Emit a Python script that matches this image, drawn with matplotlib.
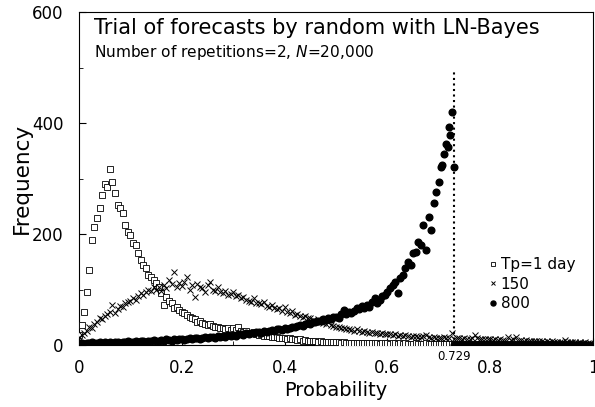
import numpy as np
import matplotlib.pyplot as plt
from matplotlib.ticker import MultipleLocator

# bin centres (step 0.005)
x_bins = np.round(np.arange(0, 1.0, 0.005), 3)

# Tp = 1 day (squares)
freq_1day = [
    18, 36, 60, 96, 135, 189, 213, 228, 246, 270, 291, 285, 318, 294, 273, 252, 246, 237, 216, 204,
    198, 183, 180, 165, 153, 144, 138, 126, 123, 117, 111, 105, 93, 72, 87, 80, 75, 66, 68, 63,
    60, 57, 54, 50, 48, 46, 42, 44, 40, 38, 36, 37, 34, 33, 32, 30, 31, 29, 30, 27,
    30, 27, 33, 25, 24, 26, 22, 21, 23, 19, 18, 20, 17, 16, 17, 15, 14, 15, 13, 12,
    12, 11, 12, 10, 10, 9, 10, 8, 9, 8, 7, 8, 7, 6, 7, 6, 6, 5, 6, 5,
    5, 5, 4, 5, 4, 4, 4, 3, 4, 3, 4, 3, 3, 4, 3, 3, 3, 2, 3, 3,
    3, 2, 3, 3, 2, 3, 2, 3, 2, 2, 2, 3, 2, 2, 2, 3, 2, 2, 1, 2,
    2, 1, 2, 2, 1, 2, 1, 2, 1, 1, 1, 2, 1, 1, 1, 2, 1, 1, 1, 1,
    1, 1, 1, 0, 1, 1, 1, 0, 1, 1, 0, 1, 1, 0, 1, 0, 1, 0, 1, 1,
    1, 0, 1, 0, 1, 1, 0, 0, 1, 0, 0, 1, 0, 0, 0, 1, 0, 0, 0, 0,
]

# Tp = 150 (crosses)
freq_150 = [
    15, 18, 22, 26, 33, 30, 38, 42, 48, 46, 52, 56, 60, 72, 57, 64, 70, 68, 75, 78,
    80, 84, 82, 88, 93, 90, 95, 99, 97, 104, 100, 105, 98, 108, 102, 117, 110, 132, 104, 112,
    106, 114, 123, 100, 108, 87, 110, 104, 102, 96, 108, 114, 100, 98, 104, 95, 93, 98, 90, 92,
    96, 88, 90, 84, 86, 82, 80, 78, 84, 76, 75, 73, 78, 70, 68, 72, 66, 64, 67, 62,
    69, 60, 58, 62, 54, 56, 52, 50, 53, 48, 48, 45, 44, 46, 42, 40, 38, 41, 36, 34,
    32, 33, 30, 31, 28, 29, 27, 26, 28, 25, 24, 26, 23, 22, 24, 21, 22, 20, 21, 20,
    20, 19, 18, 20, 17, 18, 16, 18, 17, 15, 16, 17, 15, 14, 16, 18, 14, 13, 15, 13,
    13, 12, 14, 12, 13, 21, 11, 12, 13, 11, 12, 10, 11, 12, 18, 12, 11, 10, 11, 10,
    10, 9, 11, 9, 10, 9, 8, 15, 9, 10, 15, 8, 9, 8, 9, 7, 8, 7, 8, 7,
    7, 6, 7, 6, 7, 5, 6, 5, 6, 9, 5, 6, 5, 5, 4, 5, 4, 5, 4, 4,
]

# Tp = 800 (dots), up to the maximum probability 0.729, zero beyond it
freq_800 = [
    3, 4, 2, 4, 3, 5, 4, 3, 5, 4, 6, 4, 5, 3, 6, 5, 4, 6, 5, 7,
    6, 5, 7, 6, 8, 7, 6, 8, 7, 9, 8, 7, 9, 8, 10, 9, 8, 10, 9, 11,
    10, 9, 11, 12, 10, 12, 13, 11, 13, 14, 12, 15, 14, 13, 16, 15, 17, 14, 18, 16,
    18, 17, 19, 20, 18, 21, 20, 22, 21, 23, 24, 22, 25, 24, 26, 27, 25, 28, 29, 27,
    30, 29, 31, 33, 32, 34, 36, 35, 37, 40, 38, 42, 41, 44, 43, 46, 45, 48, 47, 50,
    51, 48, 55, 63, 56, 60, 57, 62, 66, 64, 70, 67, 72, 69, 78, 84, 76, 81, 88, 90,
    96, 102, 108, 114, 93, 120, 126, 138, 150, 144, 165, 168, 186, 180, 216, 171, 231, 207, 255, 276,
    294, 321, 345, 363, 393, 420, 0, 0, 0, 0, 0, 0, 0, 0, 0, 0, 0, 0, 0, 0,
    0, 0, 0, 0, 0, 0, 0, 0, 0, 0, 0, 0, 0, 0, 0, 0, 0, 0, 0, 0,
    0, 0, 0, 0, 0, 0, 0, 0, 0, 0, 0, 0, 0, 0, 0, 0, 0, 0, 0, 0,
]
tail_x = [0.7225, 0.718, 0.707, 0.729]
tail_y = [378, 357, 324, 320]

p_max = 0.729
line_top = 495

fig = plt.figure(figsize=(5.95, 4.07), dpi=100)
ax = fig.add_axes([0.1328, 0.1523, 0.8638, 0.8182])

ax.plot(x_bins, freq_1day, ls='none', marker='s', ms=4.6, mfc='white', mec='black', mew=0.6,
        label='Tp=1 day', zorder=3)
ax.plot(x_bins, freq_150, ls='none', marker='x', ms=4.3, color='black', mew=0.7, label='150',
        zorder=3)
x_800 = list(x_bins) + tail_x
y_800 = freq_800 + tail_y
ax.plot(x_800, y_800, ls='none', marker='o', ms=4.8, color='black', label='800', zorder=3)

ax.plot([p_max, p_max], [0, line_top], ls=':', color='black', lw=1.5)
ax.text(p_max, -9, '0.729', ha='center', va='top', fontsize=8.5)

ax.set_xlim(0, 1)
ax.set_ylim(0, 600)
ax.xaxis.set_major_locator(MultipleLocator(0.2))
ax.xaxis.set_minor_locator(MultipleLocator(0.1))
ax.yaxis.set_major_locator(MultipleLocator(200))
ax.yaxis.set_minor_locator(MultipleLocator(100))
ax.set_xticks([0, 0.2, 0.4, 0.6, 0.8, 1.0])
ax.set_xticklabels(['0', '0.2', '0.4', '0.6', '0.8', '1'])
ax.tick_params(which='both', direction='in', labelsize=12)
ax.tick_params(axis='y', pad=11)
ax.tick_params(axis='x', pad=10)
ax.tick_params(which='major', length=5)
ax.tick_params(which='minor', length=3)
ax.set_xlabel('Probability', fontsize=14, labelpad=3)
ax.set_ylabel('Frequency', fontsize=15.5, labelpad=0)

ax.text(0.03, 0.951, 'Trial of forecasts by random with LN-Bayes', transform=ax.transAxes,
        fontsize=15, ha='left', va='center')
ax.text(0.03, 0.879, 'Number of repetitions=2, $N$=20,000', transform=ax.transAxes,
        fontsize=11.1, ha='left', va='center')

ax.legend(loc='upper left', bbox_to_anchor=(0.785, 0.287), frameon=False, fontsize=11,
          handlelength=0.4, handletextpad=0.3, labelspacing=0.3, markerscale=0.75,
          borderpad=0)

fig.savefig('out.png', dpi=100)
